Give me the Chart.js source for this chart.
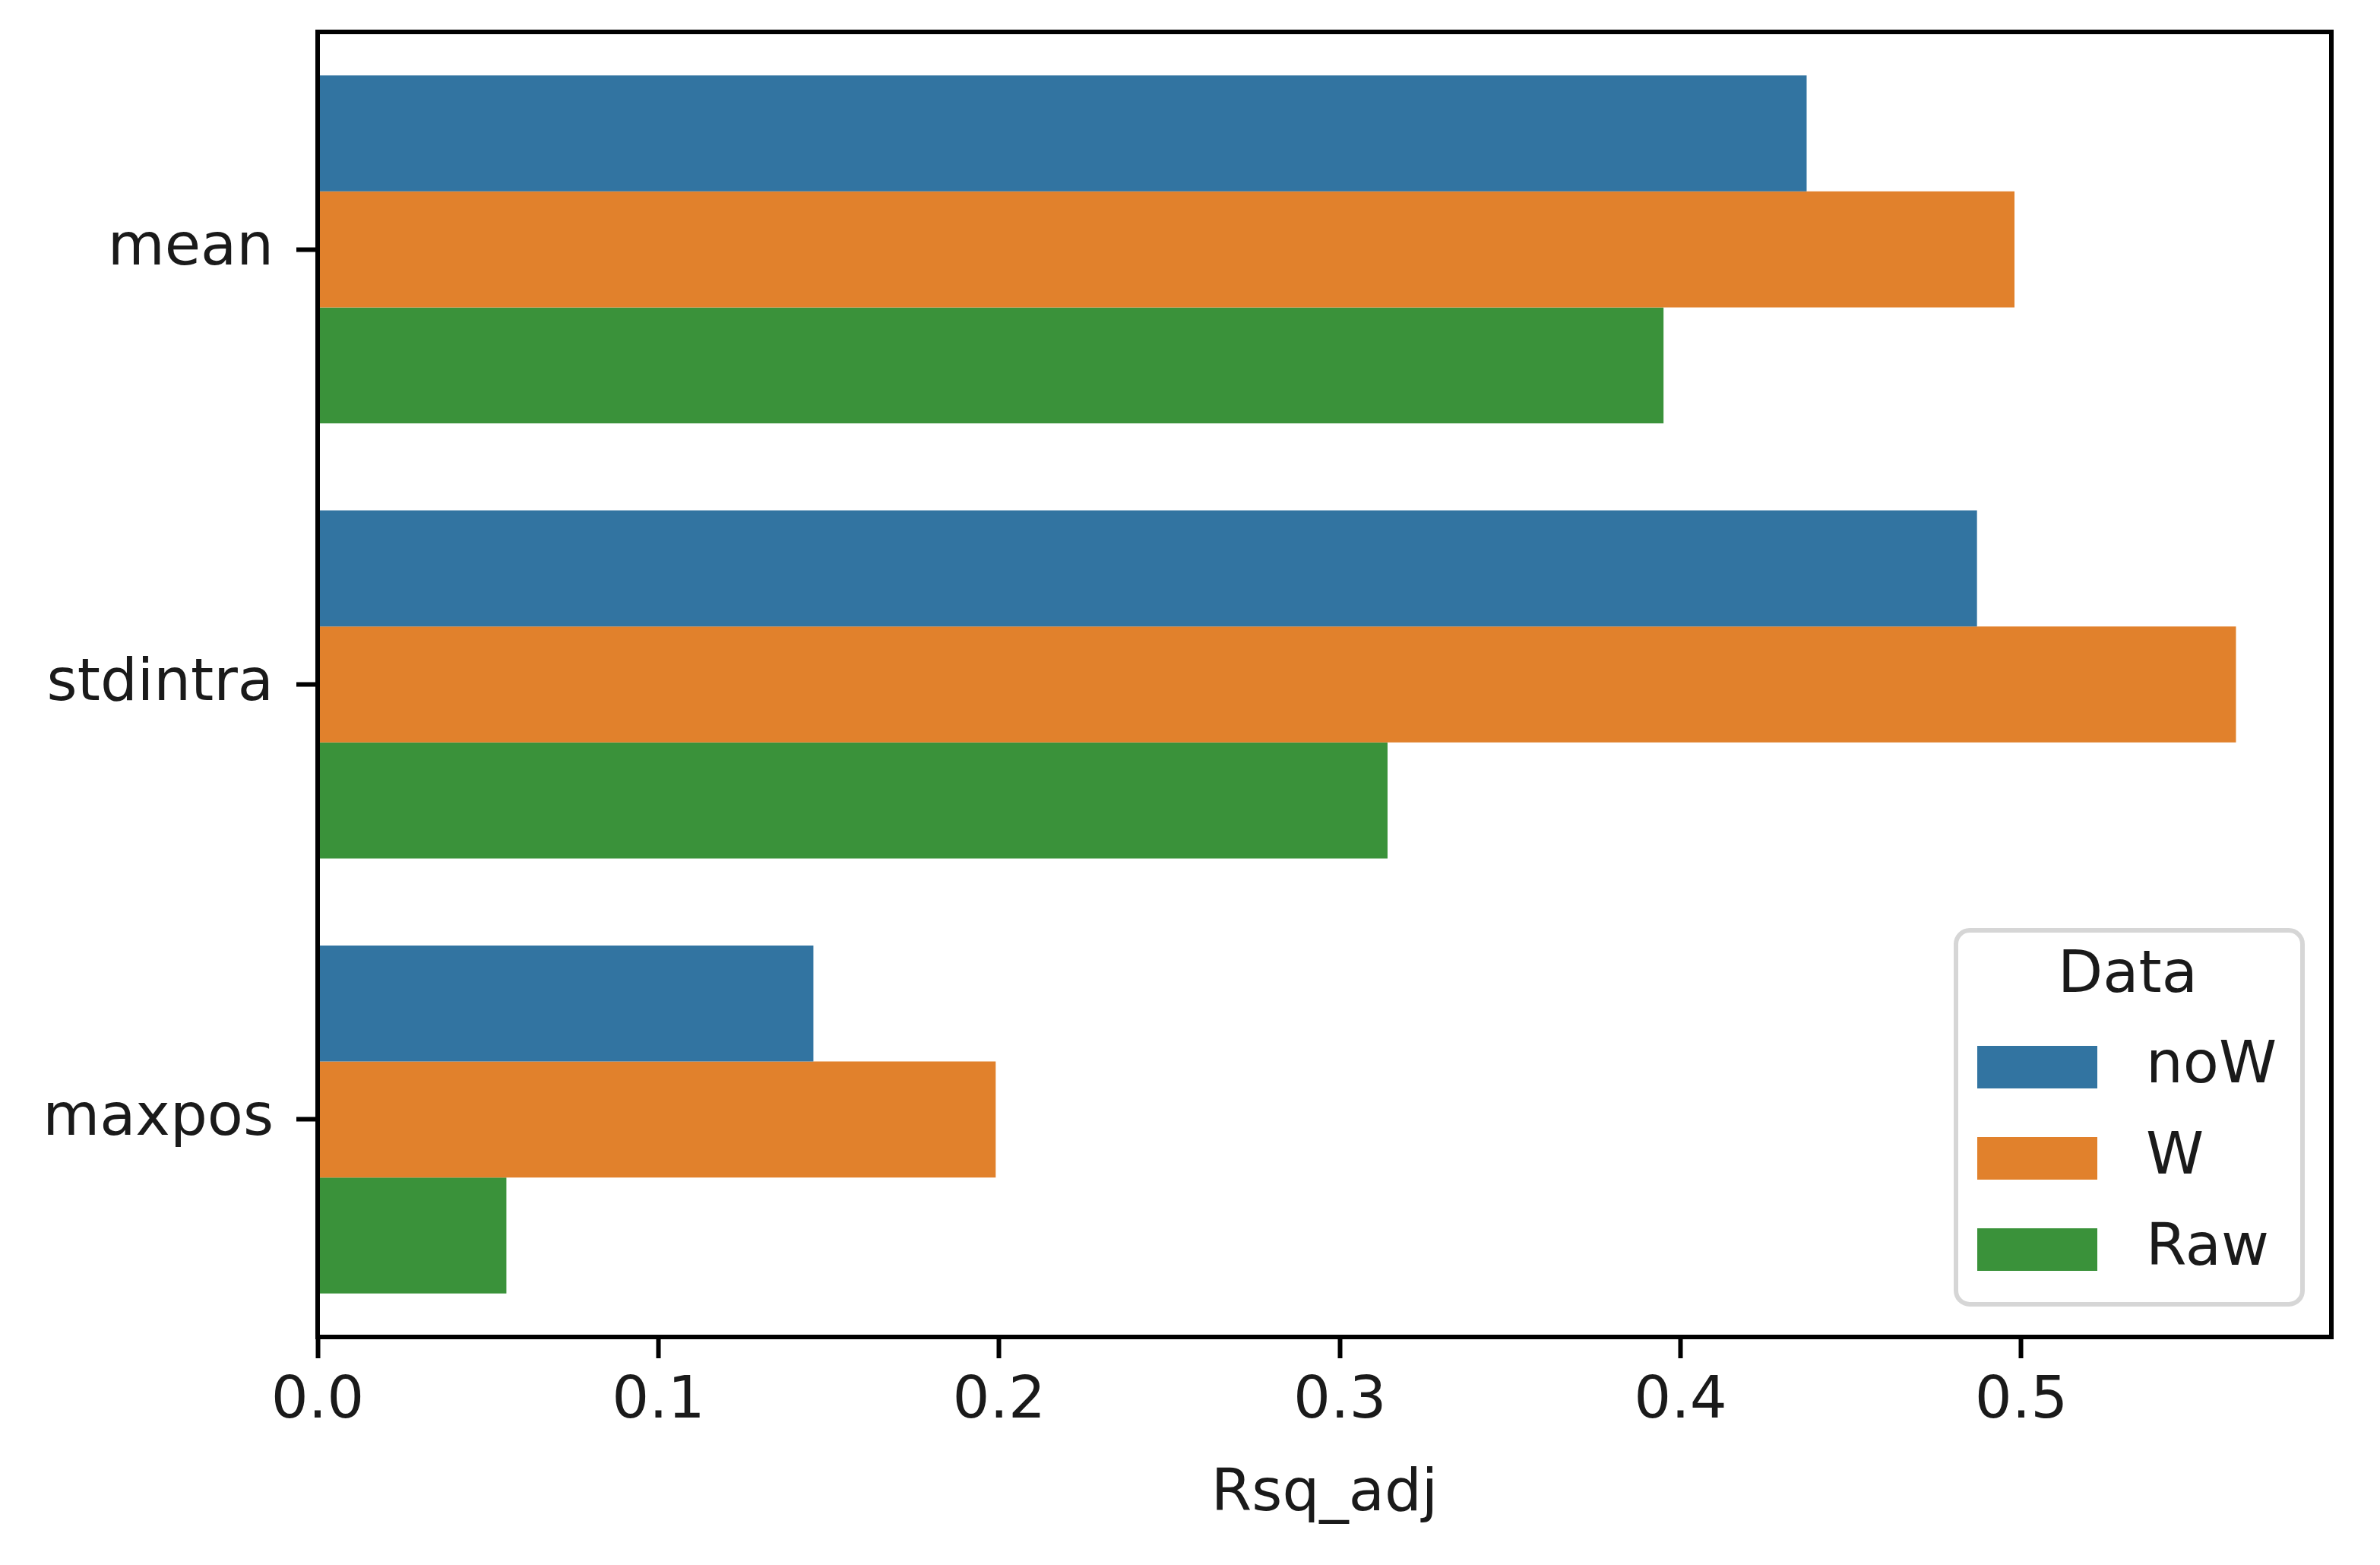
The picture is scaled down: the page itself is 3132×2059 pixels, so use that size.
<!DOCTYPE html>
<html>
<head>
<meta charset="utf-8">
<script src="https://cdn.jsdelivr.net/npm/chart.js@4"></script>
<style>
  html, body { margin: 0; padding: 0; background: #fff; }
  #wrap { width: 3132px; height: 2059px; }
</style>
</head>
<body>
<div id="wrap"><canvas id="chart" width="3132" height="2059"></canvas></div>
<script>
const categories = ['mean', 'stdintra', 'maxpos'];
const seriesNames = ['noW', 'W', 'Raw'];
const noW = [0.437, 0.487, 0.1455];
const W = [0.498, 0.563, 0.199];
const Raw = [0.395, 0.314, 0.0554];
const xTicks = [0.0, 0.1, 0.2, 0.3, 0.4, 0.5];
const xMax = 0.591;

const colors = ['#3274a1', '#e1812c', '#3a923a'];
const FONT = 'DejaVu Sans';
const INK = '#1a1a1a';

// box around the plot area, like matplotlib spines
const framePlugin = {
  id: 'frame',
  afterDatasetsDraw(chart) {
    const { ctx, chartArea: a } = chart;
    ctx.save();
    ctx.strokeStyle = '#000';
    ctx.lineWidth = 6;
    ctx.strokeRect(a.left, a.top, a.right - a.left, a.bottom - a.top);
    ctx.restore();
  }
};

// legend with title, lower right inside the axes
const legendPlugin = {
  id: 'boxLegend',
  afterDraw(chart) {
    const { ctx } = chart;
    const x0 = 2574, y0 = 1224, w = 456, h = 492, r = 18;
    ctx.save();
    ctx.beginPath();
    ctx.roundRect(x0, y0, w, h, r);
    ctx.fillStyle = 'rgba(255,255,255,0.8)';
    ctx.fill();
    ctx.lineWidth = 6;
    ctx.strokeStyle = 'rgba(204,204,204,0.8)';
    ctx.stroke();

    ctx.fillStyle = INK;
    ctx.font = '77px "' + FONT + '"';
    ctx.textAlign = 'center';
    ctx.textBaseline = 'middle';
    ctx.fillText('Data', 2800, 1285);

    ctx.textAlign = 'left';
    chart.data.datasets.forEach((ds, i) => {
      const cy = 1404 + i * 120;
      ctx.fillStyle = ds.backgroundColor;
      ctx.fillRect(2602, cy - 28, 158, 56);
      ctx.fillStyle = INK;
      ctx.fillText(ds.label, 2824, cy);
    });
    ctx.restore();
  }
};

const seriesValues = [noW, W, Raw];

new Chart(document.getElementById('chart'), {
  type: 'bar',
  data: {
    labels: categories,
    datasets: seriesNames.map((name, i) => ({
      label: name,
      data: seriesValues[i],
      backgroundColor: colors[i],
      borderWidth: 0,
      categoryPercentage: 0.8,
      barPercentage: 1.0,
    })),
  },
  options: {
    indexAxis: 'y',
    responsive: false,
    animation: false,
    devicePixelRatio: 1,
    layout: { padding: { left: 0, top: 42, right: 64, bottom: 0 } },
    plugins: {
      legend: { display: false },
      tooltip: { enabled: false },
    },
    scales: {
      x: {
        type: 'linear',
        min: 0,
        max: xMax,
        afterFit(scale) { scale.height = 300; },
        afterBuildTicks(scale) { scale.ticks = xTicks.map(v => ({ value: v })); },
        border: { display: false },
        grid: {
          drawOnChartArea: false,
          drawTicks: true,
          tickLength: 28,
          tickWidth: 6,
          tickColor: '#000',
        },
        ticks: {
          padding: 12,
          color: INK,
          font: { family: FONT, size: 77 },
          callback: v => Number(v).toFixed(1),
        },
        title: {
          display: true,
          text: 'Rsq_adj',
          color: INK,
          font: { family: FONT, size: 77 },
          padding: { top: 0, bottom: 46 },
        },
      },
      y: {
        type: 'category',
        afterFit(scale) {
          scale.width = 418;
          // labels sit inside their bands, no extra room needed above/below
          scale.paddingTop = 0;
          scale.paddingBottom = 0;
        },
        border: { display: false },
        grid: {
          offset: false,
          drawOnChartArea: false,
          drawTicks: true,
          tickLength: 28,
          tickWidth: 6,
          tickColor: '#000',
        },
        ticks: {
          padding: 30,
          color: INK,
          font: { family: FONT, size: 77 },
        },
      },
    },
  },
  plugins: [framePlugin, legendPlugin],
});
</script>
</body>
</html>
